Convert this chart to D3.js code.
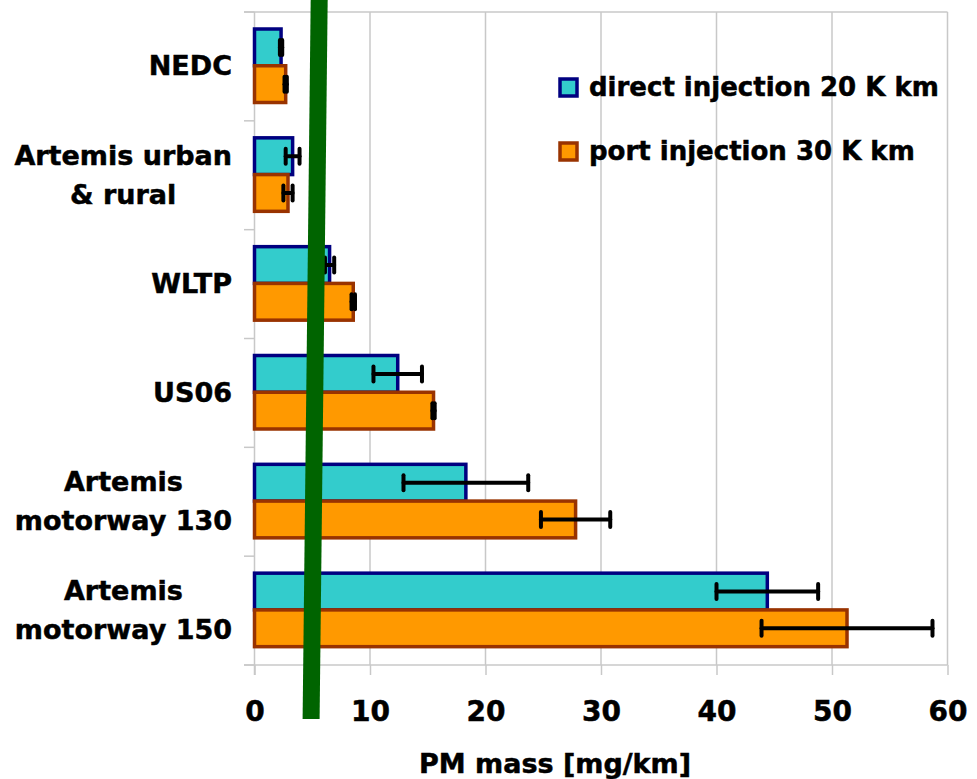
<!DOCTYPE html>
<html>
<head>
<meta charset="utf-8">
<script src="https://cdn.jsdelivr.net/npm/d3@7"></script>
<style>
  body { margin: 0; background: #fff; }
  text { font-family: "DejaVu Sans", Verdana, sans-serif; font-weight: bold; fill: #000; stroke: #000; stroke-width: 0.5; }
</style>
</head>
<body>
<svg id="chart" width="977" height="779"></svg>
<script>
// chart values
var categories = ["NEDC", "Artemis urban\n& rural", "WLTP", "US06", "Artemis\nmotorway 130", "Artemis\nmotorway 150"];
var seriesNames = ["direct injection 20 K km", "port injection 30 K km"];
var directMean = [2.3, 3.3, 6.5, 12.4, 18.3, 44.4];
var directErr  = [0.1, 0.6, 0.4, 2.1, 5.4, 4.4];
var portMean   = [2.7, 2.9, 8.55, 15.5, 27.8, 51.3];
var portErr    = [0.1, 0.4, 0.15, 0.1, 3.0, 7.4];
var xTicks = [0, 10, 20, 30, 40, 50, 60];
var greenLine = [5.6, 4.9]; // annotation stroke, top and bottom x value

var fills = ["#33cccc", "#ff9900"];
var strokes = ["#000080", "#993300"];
var gridColor = "#c8c8c8";

var svg = d3.select("#chart");

var x = d3.scaleLinear().domain([0, 60]).range([254.5, 947.5]);
var y = d3.scaleBand().domain(categories).range([12, 665]).padding(0);
var y1 = d3.scaleBand().domain(seriesNames).range([17, 90.5]).padding(0);

var rows = categories.map(function (c, i) {
  return {
    cat: c,
    vals: [
      {s: seriesNames[0], i: 0, v: directMean[i], e: directErr[i]},
      {s: seriesNames[1], i: 1, v: portMean[i], e: portErr[i]}
    ]
  };
});

// grid lines
svg.append("g").selectAll("line")
  .data(xTicks.slice(1))
  .enter().append("line")
  .attr("x1", function (d) { return x(d); })
  .attr("x2", function (d) { return x(d); })
  .attr("y1", 12).attr("y2", 665)
  .attr("stroke", gridColor).attr("stroke-width", 1.5);

// top border
svg.append("line")
  .attr("x1", 244).attr("x2", x(60))
  .attr("y1", 12).attr("y2", 12)
  .attr("stroke", gridColor).attr("stroke-width", 1.5);

// x axis
var xAxis = svg.append("g")
  .attr("transform", "translate(0,665)")
  .call(d3.axisBottom(x).tickValues(xTicks).tickSize(10).tickPadding(26).tickSizeOuter(0));
xAxis.select(".domain").attr("stroke", gridColor).attr("stroke-width", 1.5)
  .attr("d", "M244,0H" + x(60));
xAxis.selectAll(".tick line").attr("stroke", gridColor).attr("stroke-width", 1.5);
xAxis.selectAll(".tick text")
  .attr("font-size", 28).attr("font-family", "DejaVu Sans").attr("font-weight", "bold")
  .attr("fill", "#000").attr("stroke", "#000").attr("stroke-width", 0.5);

// y axis (category boundaries)
var yBounds = categories.map(function (c) { return y(c); }).concat([665]);
svg.append("line")
  .attr("x1", x(0)).attr("x2", x(0)).attr("y1", 12).attr("y2", 675)
  .attr("stroke", gridColor).attr("stroke-width", 1.5);
svg.append("g").selectAll("line")
  .data(yBounds)
  .enter().append("line")
  .attr("x1", 244).attr("x2", x(0))
  .attr("y1", function (d) { return d; }).attr("y2", function (d) { return d; })
  .attr("stroke", gridColor).attr("stroke-width", 1.5);

// category labels: block right-aligned, lines centred inside the block
var labels = svg.append("g").selectAll("text")
  .data(categories)
  .enter().append("text")
  .attr("text-anchor", "middle")
  .attr("font-size", 27)
  .attr("y", function (d) { return y(d) + y.bandwidth() / 2; });
labels.each(function (d) {
  var parts = d.split("\n");
  var t = d3.select(this);
  var spans = parts.map(function (p, k) {
    return t.append("tspan")
      .attr("dy", k === 0 ? (9 - (parts.length - 1) * 19.5) : 39)
      .text(p);
  });
  var maxW = d3.max(spans, function (s) { return s.node().getComputedTextLength(); });
  spans.forEach(function (s) { s.attr("x", 232 - maxW / 2); });
});

// bars
var groups = svg.append("g").selectAll("g")
  .data(rows)
  .enter().append("g")
  .attr("transform", function (d) { return "translate(0," + y(d.cat) + ")"; });

groups.selectAll("rect")
  .data(function (d) { return d.vals; })
  .enter().append("rect")
  .attr("x", x(0))
  .attr("y", function (d) { return y1(d.s); })
  .attr("width", function (d) { return x(d.v) - x(0); })
  .attr("height", y1.bandwidth())
  .attr("fill", function (d) { return fills[d.i]; })
  .attr("stroke", function (d) { return strokes[d.i]; })
  .attr("stroke-width", 3.5);

// error bars
var err = groups.selectAll("g.err")
  .data(function (d) { return d.vals; })
  .enter().append("g").attr("class", "err")
  .attr("stroke", "#000").attr("stroke-width", 4).attr("stroke-linecap", "round");
err.append("line")
  .attr("x1", function (d) { return x(d.v - d.e); })
  .attr("x2", function (d) { return x(d.v + d.e); })
  .attr("y1", function (d) { return y1(d.s) + y1.bandwidth() / 2; })
  .attr("y2", function (d) { return y1(d.s) + y1.bandwidth() / 2; });
err.selectAll("line.cap")
  .data(function (d) { return [d.v - d.e, d.v + d.e].map(function (v) { return {v: v, s: d.s}; }); })
  .enter().append("line").attr("class", "cap")
  .attr("x1", function (d) { return x(d.v); })
  .attr("x2", function (d) { return x(d.v); })
  .attr("y1", function (d) { return y1(d.s) + y1.bandwidth() / 2 - 7.5; })
  .attr("y2", function (d) { return y1(d.s) + y1.bandwidth() / 2 + 7.5; });

// legend
var legend = svg.append("g").selectAll("g")
  .data(seriesNames)
  .enter().append("g")
  .attr("transform", function (d, i) { return "translate(560," + (79 + i * 64) + ")"; });
legend.append("rect")
  .attr("width", 17).attr("height", 17)
  .attr("fill", function (d, i) { return fills[i]; })
  .attr("stroke", function (d, i) { return strokes[i]; })
  .attr("stroke-width", 3.5);
legend.append("text")
  .attr("x", 29).attr("y", 17)
  .attr("font-size", 26)
  .text(function (d) { return d; });

// x axis title
svg.append("text")
  .attr("x", 555).attr("y", 773)
  .attr("text-anchor", "middle")
  .attr("font-size", 27)
  .text("PM mass [mg/km]");

// green annotation stroke
svg.append("line")
  .attr("x1", x(greenLine[0])).attr("y1", 0)
  .attr("x2", x(greenLine[1])).attr("y2", 719)
  .attr("stroke", "#006400").attr("stroke-width", 17);
</script>
</body>
</html>
